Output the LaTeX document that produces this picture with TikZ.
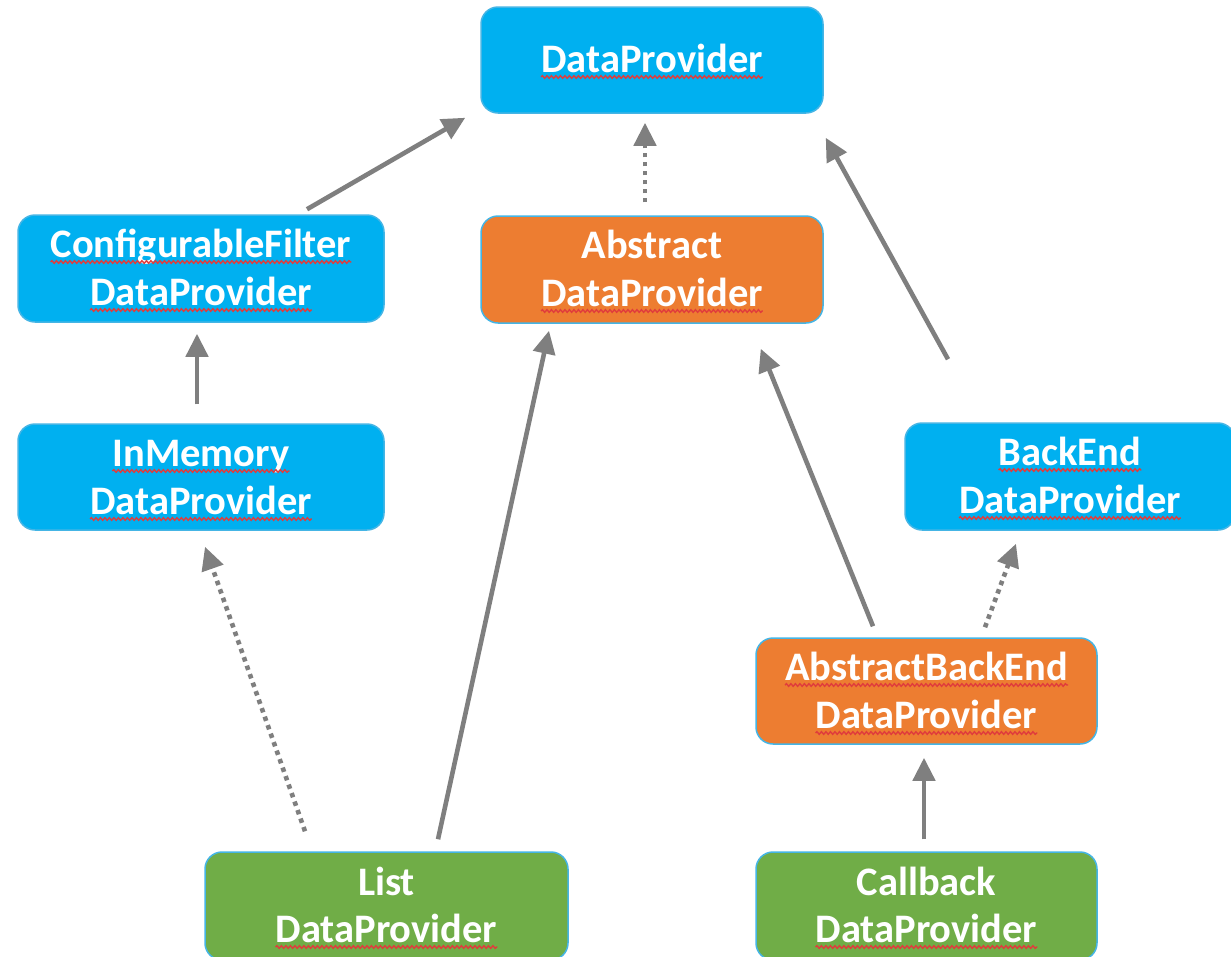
\documentclass[tikz,border=0pt]{standalone}
\usepackage{fontspec}
\setmainfont{Carlito}
\usetikzlibrary{arrows.meta,decorations.pathmorphing}
\definecolor{cblue}{HTML}{00B0F0}
\definecolor{corange}{HTML}{ED7D31}
\definecolor{cgreen}{HTML}{70AD47}
\definecolor{cedge}{HTML}{45B5E5}
\definecolor{carrow}{HTML}{7F7F7F}
\definecolor{cwave}{HTML}{E03C3C}
\tikzset{
  box/.style={rounded corners=17pt, draw=cedge, line width=1.5pt, inner sep=0pt},
  bluebox/.style={box, fill=cblue},
  orangebox/.style={box, fill=corange},
  greenbox/.style={box, fill=cgreen},
  lbl/.style={inner sep=0pt, anchor=base, text=white, font=\fontsize{40.5}{48}\selectfont\bfseries},
  wavy/.style={draw=cwave, line width=1.4pt, decorate, decoration={snake, amplitude=1.3pt, segment length=4.5pt}},
  arr/.style={draw=carrow, line width=4.6pt, -{Triangle[length=23pt,width=22pt]}},
  dotarr/.style={arr, dash pattern=on 4.5pt off 4.5pt},
}
\newcommand\wline[1]{\draw[wavy] ([yshift=-5pt]#1.base west) -- ([yshift=-5pt]#1.base east);}
\begin{document}
\begin{tikzpicture}[x=1pt,y=-1pt]
\useasboundingbox (0,0) rectangle (1231,956);
\clip (0,0) rectangle (1231,956);
% boxes
\node[bluebox, minimum width=342pt, minimum height=106pt] (dp) at (652,60) {};
\node[bluebox, minimum width=366pt, minimum height=107pt] (cf) at (201,268.5) {};
\node[orangebox, minimum width=342pt, minimum height=107pt] (adp) at (652,269.5) {};
\node[bluebox, minimum width=366pt, minimum height=106pt] (im) at (201,477) {};
\node[bluebox, minimum width=330pt, minimum height=107pt] (be) at (1070,476.5) {};
\node[orangebox, minimum width=341pt, minimum height=106pt] (abe) at (926.5,691) {};
\node[greenbox, minimum width=363pt, minimum height=108pt] (list) at (386.5,906) {};
\node[greenbox, minimum width=341pt, minimum height=108pt] (cb) at (926.5,906) {};
% labels
\node[lbl] (dpA) at (652,72) {DataProvider};
\node[lbl] (cfA) at (201,257) {ConfigurableFilter};
\node[lbl] (cfB) at (201,305) {DataProvider};
\node[lbl] (adpA) at (652,258) {Abstract};
\node[lbl] (adpB) at (652,306) {DataProvider};
\node[lbl] (imA) at (201,466) {InMemory};
\node[lbl] (imB) at (201,514) {DataProvider};
\node[lbl] (beA) at (1070,465) {BackEnd};
\node[lbl] (beB) at (1070,513) {DataProvider};
\node[lbl] (abeA) at (926.5,680) {AbstractBackEnd};
\node[lbl] (abeB) at (926.5,728) {DataProvider};
\node[lbl] (listA) at (386.5,895) {List};
\node[lbl] (listB) at (386.5,942) {DataProvider};
\node[lbl] (cbA) at (926.5,895) {Callback};
\node[lbl] (cbB) at (926.5,942) {DataProvider};
% spell-check underlines
\wline{dpA}\wline{cfA}\wline{cfB}\wline{adpB}\wline{imA}\wline{imB}
\wline{beA}\wline{beB}\wline{abeA}\wline{abeB}\wline{listB}\wline{cbB}
% connectors
\draw[arr] ([shift={(106,-5)}]cf.north) -- ([shift={(-15,4)}]dp.south west);
\draw[dotarr] ([shift={(-7,-13)}]adp.north) -- ([shift={(-7,9)}]dp.south);
\draw[arr] ([shift={(-122,-63)}]be.north) -- ([shift={(2,24)}]dp.south east);
\draw[arr] ([shift={(-4,-19)}]im.north) -- ([shift={(-4,11)}]cf.south);
\draw[dotarr] ([shift={(-81.5,-20)}]list.north) -- ([shift={(4,16)}]im.south);
\draw[arr] ([shift={(51.5,-12)}]list.north) -- ([shift={(-103,7)}]adp.south);
\draw[arr] ([shift={(-53.5,-11)}]abe.north) -- ([shift={(-63,25)}]adp.south east);
\draw[dotarr] ([shift={(58.5,-10)}]abe.north) -- ([shift={(-54,13)}]be.south);
\draw[arr] ([shift={(-2.5,-12)}]cb.north) -- ([shift={(-2.5,13)}]abe.south);
\end{tikzpicture}
\end{document}
